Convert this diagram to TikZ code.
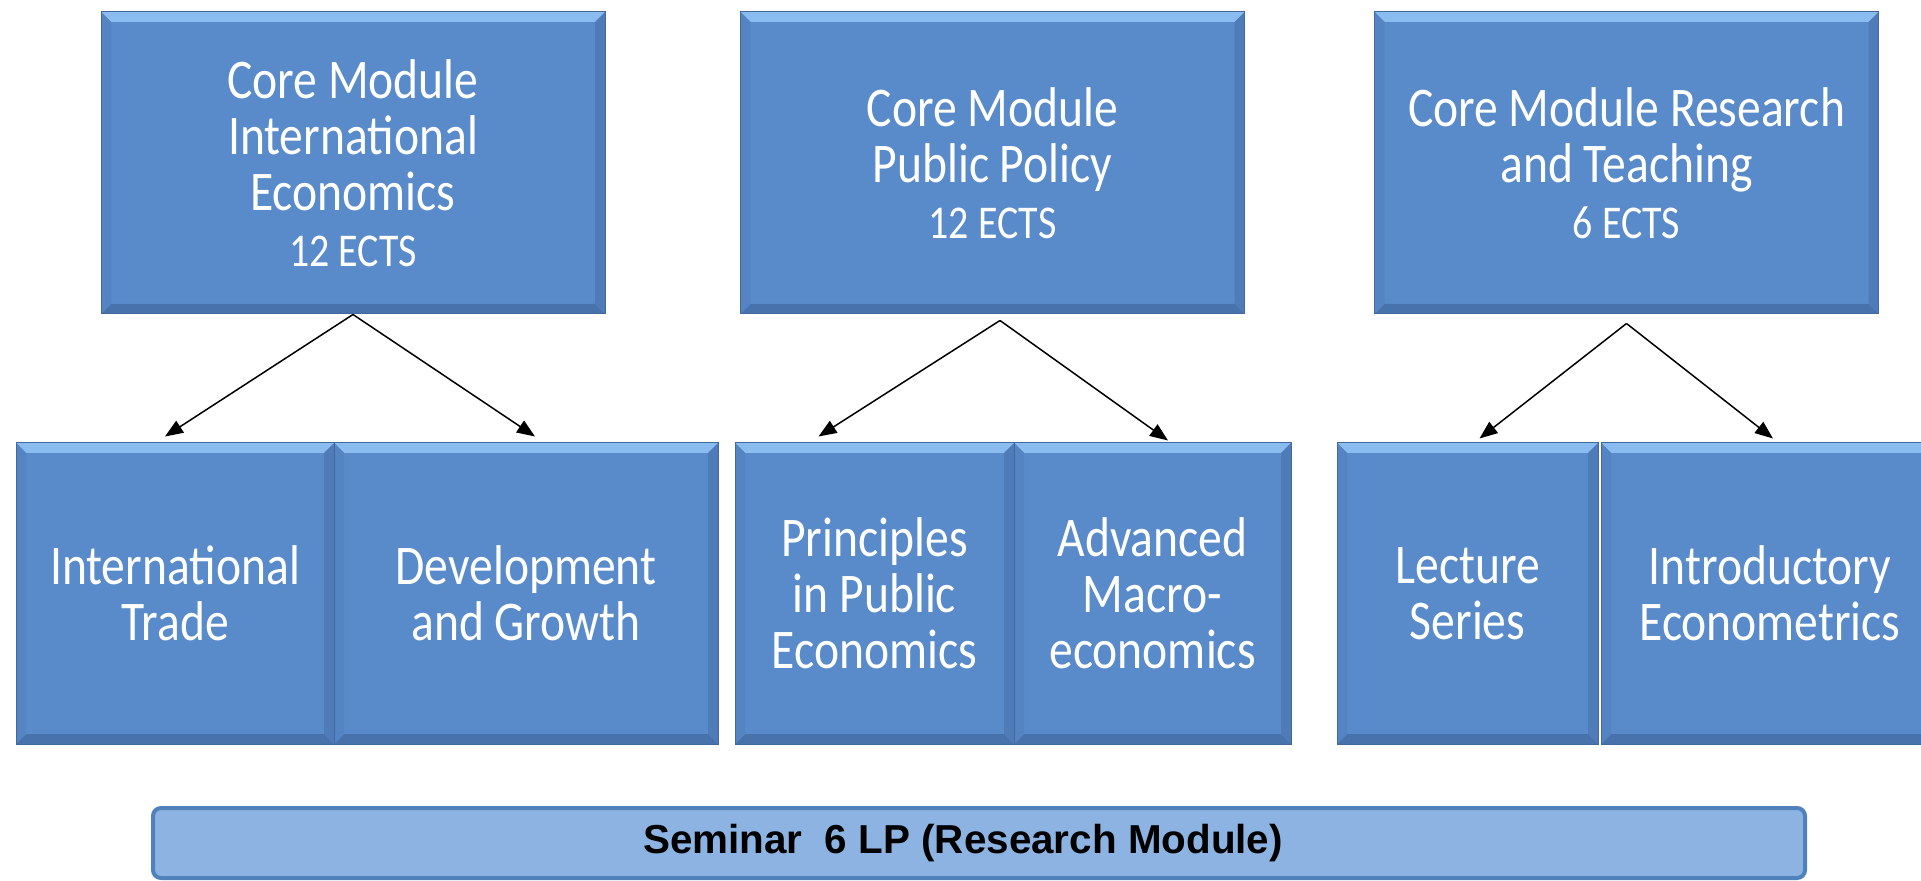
\documentclass[tikz,border=0pt]{standalone}
\usepackage{fontspec}
\setmainfont{Carlito}[FakeStretch=0.85]
\newfontfamily\semfont{Liberation Sans}
\usetikzlibrary{arrows.meta}

\definecolor{boxblue}{RGB}{89,139,202}
\definecolor{boxlight}{RGB}{138,188,240}
\definecolor{boxdark}{RGB}{72,114,172}
\definecolor{boxedge}{RGB}{66,104,156}
\definecolor{semfill}{RGB}{141,179,226}
\definecolor{semedge}{RGB}{79,129,189}

\tikzset{
  bevel/.style={
    path picture={
      \fill[boxlight] (path picture bounding box.north west) -- (path picture bounding box.north east)
        -- ([shift={(-5pt,-5pt)}]path picture bounding box.north east) -- ([shift={(5pt,-5pt)}]path picture bounding box.north west) -- cycle;
      \fill[boxdark] (path picture bounding box.south west) -- (path picture bounding box.south east)
        -- ([shift={(-5pt,5pt)}]path picture bounding box.south east) -- ([shift={(5pt,5pt)}]path picture bounding box.south west) -- cycle;
      \fill[boxdark!60!boxblue] (path picture bounding box.north east) -- (path picture bounding box.south east)
        -- ([shift={(-5pt,5pt)}]path picture bounding box.south east) -- ([shift={(-5pt,-5pt)}]path picture bounding box.north east) -- cycle;
      \fill[boxdark!30!boxblue] (path picture bounding box.north west) -- (path picture bounding box.south west)
        -- ([shift={(5pt,5pt)}]path picture bounding box.south west) -- ([shift={(5pt,-5pt)}]path picture bounding box.north west) -- cycle;
    }},
  module/.style={bevel, draw=boxedge, line width=0.5pt, fill=boxblue, text=white, align=center,
    inner sep=0pt, font=\fontsize{28}{28}\selectfont},
  core/.style={module, minimum width=252pt, minimum height=151pt},
  course/.style={module, minimum height=150.5pt},
  arr/.style={-{Triangle[length=9pt,width=7pt]}, line width=0.75pt, black}
}
\newcommand{\ects}[1]{{\fontsize{23.5}{28}\selectfont #1}}

\begin{document}
\begin{tikzpicture}[x=0.5pt,y=-0.5pt]
    \useasboundingbox (0,0) rectangle (1921,881);

    % core modules
    \node[core] (cmie) at (353,163) {Core Module\\International\\Economics\\\ects{12 ECTS}};
    \node[core] (cmpp) at (992.5,163) {Core Module\\Public Policy\\\ects{12 ECTS}};
    \node[core] (cmrt) at (1626.5,163) {Core Module Research\\and Teaching\\\ects{6 ECTS}};

    % courses
    \node[course, minimum width=159pt] (it) at (175,593.5) {International\\Trade};
    \node[course, minimum width=192pt] (dg) at (526,593.5) {Development\\and Growth};
    \node[course, minimum width=139.5pt] (ppe) at (874.5,593.5) {Principles\\in Public\\Economics};
    \node[course, minimum width=138.5pt] (am) at (1152.5,593.5) {Advanced\\Macro-\\economics};
    \node[course, minimum width=130.5pt] (ls) at (1467.5,593.5) {Lecture\\Series};
    \node[course, minimum width=169pt] (ie) at (1770,593.5) {Introductory\\Econometrics};

    % arrows
    \draw[arr] (cmie.south) -- ([shift={(-5pt,3pt)}]it.north);
    \draw[arr] (cmie.south) -- ([shift={(4.5pt,3pt)}]dg.north);
    \draw[arr] ([shift={(3.75pt,-3pt)}]cmpp.south) -- ([shift={(-28pt,3pt)}]ppe.north);
    \draw[arr] ([shift={(3.75pt,-3pt)}]cmpp.south) -- ([shift={(7.75pt,1pt)}]am.north);
    \draw[arr] ([yshift=-4.5pt]cmrt.south) -- ([shift={(6pt,2pt)}]ls.north);
    \draw[arr] ([yshift=-4.5pt]cmrt.south) -- ([shift={(1.5pt,2pt)}]ie.north);

    % seminar bar
    \node[draw=semedge, line width=2pt, fill=semfill, rounded corners=4pt, minimum width=826pt, minimum height=35pt,
      font=\semfont\bfseries\fontsize{20.2}{22}\selectfont] (sem) at (979,843) {\hspace*{-16pt}Seminar\ \ 6 LP (Research Module)};

\end{tikzpicture}
\end{document}
